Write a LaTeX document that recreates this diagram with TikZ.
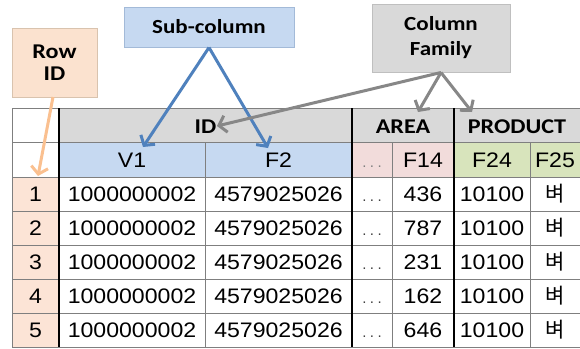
\documentclass[tikz,border=0pt]{standalone}
\usepackage{fontspec}
\setmainfont{Liberation Sans}
\newfontfamily\lblfont{Carlito}
\newfontfamily\krfont{Noto Sans CJK KR}
\usetikzlibrary{arrows.meta}
\definecolor{hgray}{HTML}{D9D9D9}
\definecolor{cblue}{HTML}{C6D9F1}
\definecolor{cpink}{HTML}{F2DCDB}
\definecolor{cgreen}{HTML}{D8E4BC}
\definecolor{cpeach}{HTML}{FCE4D6}
\definecolor{bpeach}{HTML}{FBE2CF}
\definecolor{bpeachb}{HTML}{D9C3AE}
\definecolor{bblueb}{HTML}{A3BAD8}
\definecolor{bgrayb}{HTML}{BFBFBF}
\definecolor{aorange}{HTML}{FAC090}
\definecolor{ablue}{HTML}{4F81BD}
\definecolor{agray}{HTML}{878787}
\definecolor{gridc}{HTML}{7F7F7F}
\newcommand\dx[1]{\scalebox{1.1}[1]{#1}}
\newcommand\lx[1]{\scalebox{1.15}[1]{#1}}
\newcommand\threedots{{\fontsize{15}{16}\selectfont .\hspace{3.5pt}.\hspace{3.5pt}.}}
\begin{document}
\begin{tikzpicture}[x=1pt,y=-1pt,
  lbox/.style={draw, line width=1pt, inner sep=0pt, align=center,
    font=\lblfont\bfseries\fontsize{20}{24}\selectfont},
  dat/.style={inner sep=0pt, font=\fontsize{21}{24}\selectfont},
  hdr/.style={inner sep=0pt, font=\lblfont\bfseries\fontsize{21}{24}\selectfont},
  thin grid/.style={draw=gridc, line width=1pt},
  thick grid/.style={draw=black, line width=2.6pt},
  arr/.style={line width=3pt, -{Straight Barb[length=7pt,width=17pt]}}]
\useasboundingbox (0,0) rectangle (580,348);
% fills
\fill[hgray] (59,108) rectangle (580,142.5);
\fill[cblue] (59,142.5) rectangle (352,177);
\fill[cpink] (352,142.5) rectangle (454,177);
\fill[cgreen] (454,142.5) rectangle (580,177);
\fill[cpeach] (12,177) rectangle (59,347);
% grid
\foreach \y in {108,142.5,177,211,245,279,313,347}
  \draw[thin grid] (12,\y) -- (580,\y);
\draw[thin grid] (12,108) -- (12,347);
\foreach \x in {205,392,530}
  \draw[thin grid] (\x,142.5) -- (\x,347);
\foreach \x in {59,352,454}
  \draw[thick grid] (\x,108) -- (\x,347);
% header row 1
\node[hdr] (hID) at (205.5,127) {\lx{ID}};
\node[hdr] (hAREA) at (403,127) {\lx{AREA}};
\node[hdr] (hPROD) at (517,127) {\lx{PRODUCT}};
% header row 2
\node[dat] (hV1) at (132,160) {\dx{V1}};
\node[dat, anchor=base] (hdots) at (372,167) {\textcolor{gridc}{\threedots}};
\node[dat] (hF2) at (278.5,160) {\dx{F2}};
\node[dat] (hF14) at (423,160) {\dx{F14}};
\node[dat] (hF24) at (492,160) {\dx{F24}};
\node[dat] (hF25) at (555,160) {\dx{F25}};
% data rows
\foreach \i/\v [count=\k] in {1/436,2/787,3/231,4/162,5/646}{
  \pgfmathsetmacro\yy{177+34*(\k-1)+17}
  \node[dat] (rid\k) at (35.5,\yy) {\dx{\i}};
  \node[dat] (v\k) at (132,\yy) {\dx{1000000002}};
  \node[dat] (f\k) at (278.5,\yy) {\dx{4579025026}};
  \node[dat, anchor=base] (d\k) at (372,\yy+7.5) {\textcolor{darkgray}{\threedots}};
  \node[dat] (a\k) at (423,\yy) {\dx{\v}};
  \node[dat] (p\k) at (492,\yy) {\dx{10100}};
  \node[dat] (k\k) at (555,\yy) {\krfont\fontsize{21}{22}\selectfont 벼};
}
% label boxes
\node[lbox, fill=bpeach, draw=bpeachb, minimum width=85pt, minimum height=69pt,
  font=\lblfont\bfseries\fontsize{21}{22}\selectfont] (rowid) at (54.5,62.5) {\lx{Row}\\\lx{ID}};
\node[lbox, fill=cblue, draw=bblueb, minimum width=170pt, minimum height=40pt] (subcol) at (209,27) {\lx{Sub-column}};
\node[lbox, fill=hgray, draw=bgrayb, minimum width=138pt, minimum height=68pt,
  font=\lblfont\bfseries\fontsize{20}{25}\selectfont] (colfam) at (441,38) {\lx{Column}\\\lx{Family}};
% arrow targets
\coordinate (sRow) at (53,97);
\coordinate (tRow) at (38,176);
\coordinate (tV1) at (143,147);
\coordinate (tF2) at (268,148);
\coordinate (tID) at (217,126);
\coordinate (tAREA) at (418,112);
\coordinate (tPROD) at (472,112);
% arrows
\draw[arr, aorange] (sRow) -- (tRow);
\draw[arr, ablue] (subcol.south) -- (tV1);
\draw[arr, ablue] (subcol.south) -- (tF2);
\draw[arr, agray] (colfam.south) -- (tID);
\draw[arr, agray] (colfam.south) -- (tAREA);
\draw[arr, agray] (colfam.south) -- (tPROD);
\end{tikzpicture}
\end{document}
